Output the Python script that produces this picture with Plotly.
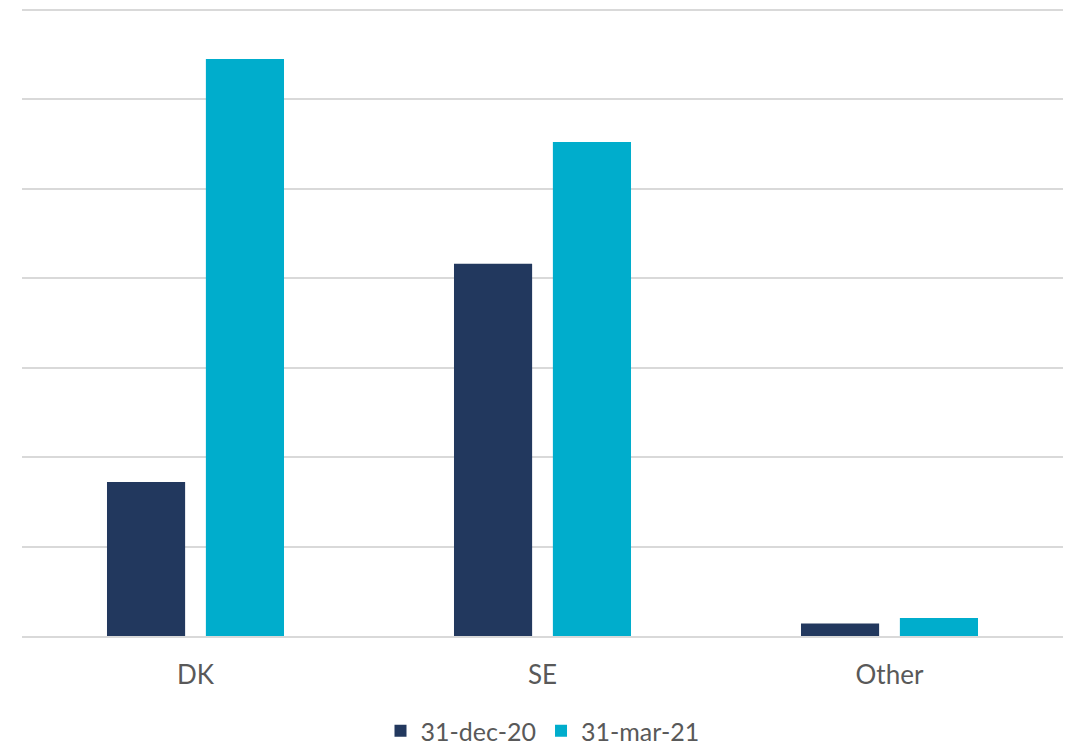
import plotly.graph_objects as go

categories = ["DK", "SE", "Other"]
series_names = ["31-dec-20", "31-mar-21"]
values_dec20 = [1.72, 4.16, 0.14]
values_mar21 = [6.45, 5.52, 0.20]
colors = ["#22385E", "#00ADCC"]

fig = go.Figure()
for name, vals, col in zip(series_names, [values_dec20, values_mar21], colors):
    fig.add_trace(go.Bar(x=categories, y=vals, name=name, marker=dict(color=col, line=dict(width=0))))

font_family = "Lato, 'Open Sans', sans-serif"
fig.update_layout(
    width=1066, height=746,
    margin=dict(l=22, r=3, t=7.3, b=110, autoexpand=False),
    plot_bgcolor="white", paper_bgcolor="white",
    barmode="group", bargap=0.43, bargroupgap=0.21,
    font=dict(family=font_family, color="#595959", size=26),
    showlegend=True,
    legend=dict(orientation="h", x=0.5, xanchor="center", yref="container", y=0.02, yanchor="middle",
                font=dict(size=25, color="#595959"), itemwidth=30, traceorder="normal"),
    xaxis=dict(showgrid=False, showline=True, linecolor="#d9d9d9", linewidth=2,
               ticks="", tickfont=dict(size=26, color="#595959"), ticklabelstandoff=15),
    yaxis=dict(range=[0, 7.03], tick0=0, dtick=1, showgrid=True, gridcolor="#d9d9d9", gridwidth=1.5,
               showticklabels=False, zeroline=False, ticks=""),
)
fig.write_html("out.html")
